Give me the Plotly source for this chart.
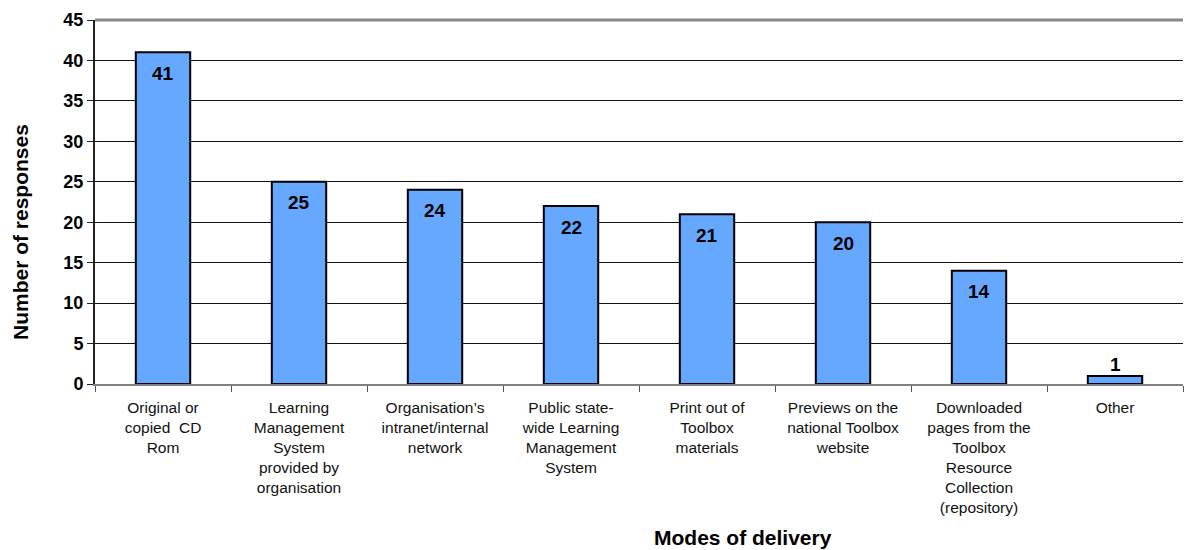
import plotly.graph_objects as go

# Survey responses by mode of delivery
categories = [
    "Original or<br>copied  CD<br>Rom",
    "Learning<br>Management<br>System<br>provided by<br>organisation",
    "Organisation\u2019s<br>intranet/internal<br>network",
    "Public state-<br>wide Learning<br>Management<br>System",
    "Print out of<br>Toolbox<br>materials",
    "Previews on the<br>national Toolbox<br>website",
    "Downloaded<br>pages from the<br>Toolbox<br>Resource<br>Collection<br>(repository)",
    "Other",
]
responses = [41, 25, 24, 22, 21, 20, 14, 1]
y_ticks = list(range(0, 50, 5))

BAR_COLOR = "#66a8ff"
FONT = "Liberation Sans, Arial, sans-serif"

fig = go.Figure()
fig.add_trace(go.Bar(
    x=categories,
    y=responses,
    marker=dict(color=BAR_COLOR, line=dict(color="#000000", width=2)),
    width=0.4,
    hoverinfo="x+y",
))

# Value labels: inside the top of tall bars, above very short ones
for cat, v in zip(categories, responses):
    inside = v > 3
    fig.add_annotation(
        x=cat, y=v, xref="x", yref="y",
        text=f"<b>{v}</b>",
        showarrow=False,
        yshift=-21 if inside else 11,
        font=dict(family=FONT, size=19, color="#000000"),
    )

# Axis titles
fig.add_annotation(
    x=0.596, y=-0.421, xref="paper", yref="paper",
    text="<b>Modes of delivery</b>", showarrow=False,
    xanchor="center", yanchor="middle",
    font=dict(family=FONT, size=21, color="#000000"),
)
fig.add_annotation(
    x=-0.068, y=0.4176, xref="paper", yref="paper",
    text="<b>Number of responses</b>", showarrow=False, textangle=-90,
    xanchor="center", yanchor="middle",
    font=dict(family=FONT, size=21, color="#000000"),
)

fig.update_layout(
    width=1185, height=550,
    margin=dict(l=95, r=2, t=20, b=166),
    paper_bgcolor="white", plot_bgcolor="white",
    showlegend=False,
    font=dict(family=FONT, color="#000000"),
)
fig.update_xaxes(
    type="category",
    tickson="boundaries",
    ticks="outside", ticklen=6, tickcolor="#555555", tickwidth=1,
    showline=True, linecolor="#808080", linewidth=2,
    mirror=False,
    showgrid=False,
    tickangle=0,
    ticklabelstandoff=8,
    tickfont=dict(family=FONT, size=15.5, color="#111111"),
)
fig.update_yaxes(
    range=[0, 45],
    tickvals=y_ticks,
    ticktext=[f"<b>{t}</b>" for t in y_ticks],
    ticks="outside", ticklen=6, tickcolor="#222222", tickwidth=1,
    showline=True, linecolor="#222222", linewidth=2,
    showgrid=True, gridcolor="#111111", gridwidth=1,
    zeroline=False,
    tickfont=dict(family=FONT, size=18, color="#000000"),
)
# Grey frame along the top of the plot area
fig.add_shape(
    type="line", xref="paper", yref="paper",
    x0=0, x1=1, y0=1, y1=1,
    line=dict(color="#888888", width=3),
)

fig.write_html("out.html")
